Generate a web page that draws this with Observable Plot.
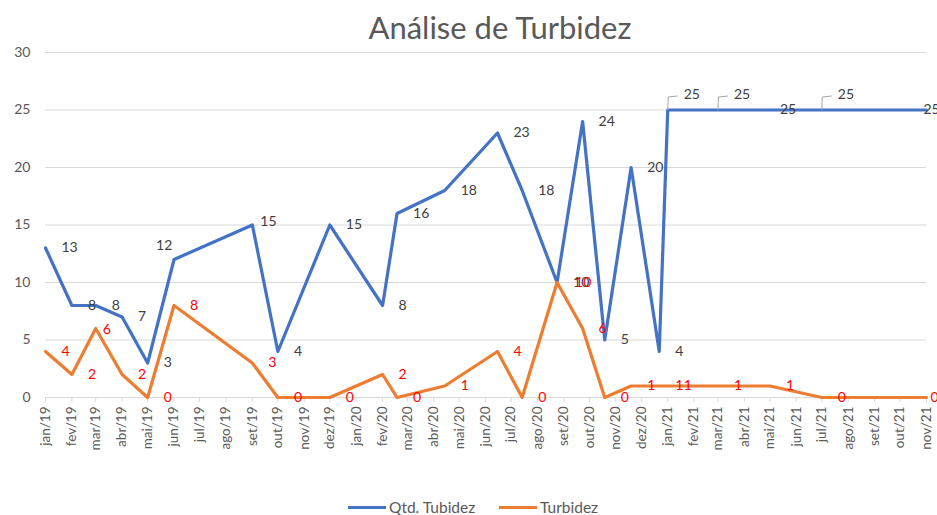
<!DOCTYPE html>
<html><head><meta charset="utf-8">
<script src="https://cdn.jsdelivr.net/npm/d3@7"></script>
<script src="https://cdn.jsdelivr.net/npm/@observablehq/plot@0.6"></script>
<style>
body{margin:0;background:#fff;font-family:Lato,"Open Sans",sans-serif;width:937px;height:515px;overflow:hidden;}
#title{height:45px;line-height:54px;font-size:31px;color:#595959;text-align:center;padding-left:63px;width:874px;white-space:nowrap;}
#chart svg{display:block;}
#legend{position:relative;height:25px;font-size:15.5px;color:#595959;}
.item{position:absolute;top:8px;display:flex;align-items:center;height:18px;}
.sw{display:inline-block;width:38px;height:3px;margin-right:3px;}
</style></head>
<body>
<div id="title">Análise de Turbidez</div>
<div id="chart"></div>
<div id="legend"></div>
<script>
// ---- data ----
const dates = ["2019-01-01","2019-02-01","2019-03-01","2019-04-01","2019-05-01","2019-06-01","2019-09-01","2019-10-01","2019-12-01","2020-02-01","2020-02-18","2020-04-14","2020-06-15","2020-07-14","2020-08-24","2020-09-23","2020-10-19","2020-11-19","2020-12-22","2021-01-01","2021-03-01","2021-05-01","2021-07-01","2021-11-01"];
const qtdTubidez = [13,8,8,7,3,12,15,4,15,8,16,18,23,18,10,24,5,20,4,25,25,25,25,25];
const turbidez   = [4,2,6,2,0,8,3,0,0,2,0,1,4,0,10,6,0,1,1,1,1,1,0,0];
const monthNames = ["jan","fev","mar","abr","mai","jun","jul","ago","set","out","nov","dez"];
const yTicks = [0,5,10,15,20,25,30];
const seriesNames = ["Qtd. Tubidez","Turbidez"];
const xStart = "2019-01-01", xEnd = "2021-11-01";

// ---- build ----
const parse = s => new Date(s + "T00:00:00Z");
const rows = dates.map((d,i)=>({date:parse(d), qtd:qtdTubidez[i], turb:turbidez[i], i}));
const monthTicks = d3.utcMonths(parse(xStart), new Date(parse(xEnd).getTime()+86400000));
const fmt = d => monthNames[d.getUTCMonth()] + "/" + String(d.getUTCFullYear()).slice(2);

const BLUE="#4472C4", ORANGE="#ED7D31";
// label placement (styling)
const leaderIdx = new Set([19,20,22]);
const blueSpecial = {5:{dx:-18,dy:-14}, 6:{dx:8,dy:-3}, 21:{dx:10,dy:0}, 23:{dx:-3,dy:0}};
const orangeSpecial = {2:{dx:7,dy:1}, 14:{dx:18,dy:0}, 23:{dx:4,dy:0}};
const leaderSymbol = {draw(ctx){ ctx.moveTo(0,0); ctx.lineTo(0.5,-13); ctx.lineTo(10,-14); }};

const blueNormal = rows.filter(r=>!leaderIdx.has(r.i) && !(r.i in blueSpecial));
const orangeNormal = rows.filter(r=>!(r.i in orangeSpecial));
const txt = {fontSize:14, textAnchor:"start", lineAnchor:"middle"};

const marks = [
  Plot.gridY(yTicks, {stroke:"#d9d9d9", strokeOpacity:1}),
  Plot.axisY(yTicks, {tickSize:0, tickPadding:15, fontSize:14, fill:"#595959"}),
  Plot.axisX(monthTicks, {tickSize:5, tickPadding:4, tickRotate:-90, tickFormat:fmt, stroke:"#d9d9d9", strokeOpacity:1, fill:"#595959", fontSize:13.5}),
  Plot.ruleY([0], {stroke:"#d9d9d9"}),
  Plot.line(rows, {x:"date", y:"qtd", stroke:BLUE, strokeWidth:3.2}),
  Plot.line(rows, {x:"date", y:"turb", stroke:ORANGE, strokeWidth:3.2}),
  Plot.dot(rows.filter(r=>leaderIdx.has(r.i)), {x:"date", y:"qtd", symbol:leaderSymbol, r:5, stroke:"#a6a6a6", fill:"none", strokeWidth:1}),
  Plot.text(blueNormal, {x:"date", y:"qtd", text:d=>String(d.qtd), dx:16, fill:"#404040", ...txt}),
  Plot.text(rows.filter(r=>leaderIdx.has(r.i)), {x:"date", y:"qtd", text:d=>String(d.qtd), dx:16, dy:-15, fill:"#404040", ...txt}),
  ...Object.entries(blueSpecial).map(([k,s])=>Plot.text(rows.filter(r=>r.i===+k), {x:"date", y:"qtd", text:d=>String(d.qtd), dx:s.dx, dy:s.dy, fill:"#404040", ...txt})),
  Plot.text(orangeNormal, {x:"date", y:"turb", text:d=>String(d.turb), dx:16, fill:"#FF0000", ...txt}),
  ...Object.entries(orangeSpecial).map(([k,s])=>Plot.text(rows.filter(r=>r.i===+k), {x:"date", y:"turb", text:d=>String(d.turb), dx:s.dx, dy:s.dy, fill:"#FF0000", ...txt}))
];

const chart = Plot.plot({
  width:937, height:445,
  marginTop:7, marginBottom:93, marginLeft:45, marginRight:11,
  style:{fontFamily:"Lato, 'Open Sans', sans-serif", color:"#595959", background:"white", overflow:"visible"},
  x:{type:"utc", domain:[parse(xStart), parse(xEnd)]},
  y:{domain:[0,30]},
  marks
});
document.getElementById("chart").appendChild(chart);

const legend = document.getElementById("legend");
const lefts = [348, 499];
[BLUE, ORANGE].forEach((c,k)=>{
  const it = document.createElement("div");
  it.className = "item"; it.style.left = lefts[k] + "px";
  it.innerHTML = `<span class="sw" style="background:${c}"></span><span>${seriesNames[k]}</span>`;
  legend.appendChild(it);
});
</script>
</body></html>
